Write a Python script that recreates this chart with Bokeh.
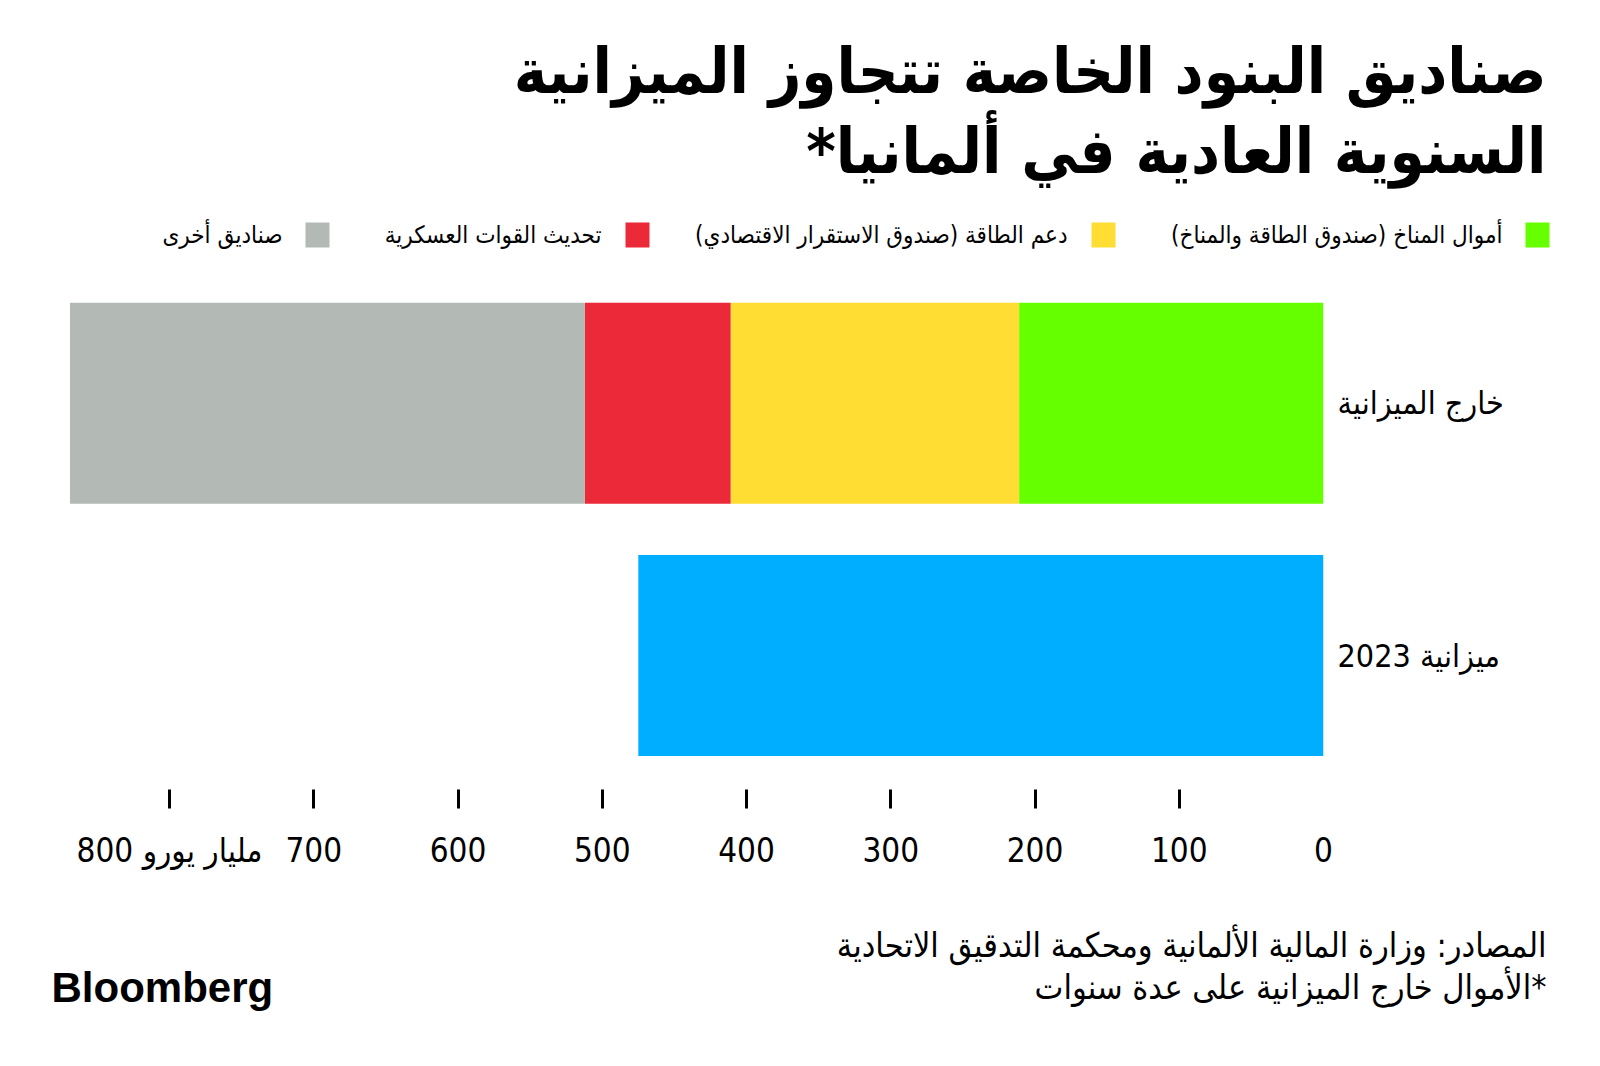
from bokeh.plotting import figure
from bokeh.models import (ColumnDataSource, Range1d, FixedTicker, Label, BoxAnnotation)
from bokeh.layouts import column
from bokeh.embed import file_html
from bokeh.resources import INLINE

# ---------------- data ----------------
rows = ["خارج الميزانية", "ميزانية 2023"]          # top, bottom
row_pos = [1, 0]
series_names = ["أموال المناخ (صندوق الطاقة والمناخ)",
                "دعم الطاقة (صندوق الاستقرار الاقتصادي)",
                "تحديث القوات العسكرية",
                "صناديق أخرى",
                "ميزانية 2023"]
climate = [211, 0]
energy = [200, 0]
military = [101, 0]
other = [357, 0]
budget = [0, 475]
colors = ["#66FF00", "#FFDD33", "#EC2939", "#B3BAB5", "#00AEFF"]
x_ticks = [0, 100, 200, 300, 400, 500, 600, 700, 800]
x_tick_labels = ["0", "100", "200", "300", "400", "500", "600", "700", "800 مليار يورو"]

title_lines = ["صناديق البنود الخاصة تتجاوز الميزانية",
               "السنوية العادية في ألمانيا*"]
source_lines = ["المصادر: وزارة المالية الألمانية ومحكمة التدقيق الاتحادية",
                "*الأموال خارج الميزانية على عدة سنوات"]

RLM = "\u200f"
AR_FONT = "DejaVu Sans Condensed"
W = 1600
HEAD_H = 270
CHART_BOTTOM = 900
FOOT_H = 1066 - CHART_BOTTOM


def blank(h):
    f = figure(width=W, height=h, output_backend="svg", toolbar_location=None,
               title=None, x_range=Range1d(0, W), y_range=Range1d(h, 0),
               x_axis_location=None, y_axis_location=None,
               min_border_left=0, min_border_right=0, min_border_top=0, min_border_bottom=0,
               frame_align=False)
    f.outline_line_color = None
    f.grid.visible = False
    return f


# ---------------- header ----------------
head = blank(HEAD_H)
for i, line in enumerate(title_lines):
    head.add_layout(Label(x=1546, y=71 + i * 80, text=RLM + line + RLM,
                          text_align="right", text_baseline="middle",
                          text_font=AR_FONT, text_font_style="bold",
                          text_font_size="63px", text_color="black"))
leg_sq_right = [1549, 1115, 649, 329]
leg_txt_right = [1502, 1067, 601, 282]
for i in range(4):
    head.add_layout(BoxAnnotation(left=leg_sq_right[i] - 24, right=leg_sq_right[i],
                                  top=222, bottom=247,
                                  fill_color=colors[i], fill_alpha=1, line_color=None))
    head.add_layout(Label(x=leg_txt_right[i], y=234, text=RLM + series_names[i] + RLM,
                          text_align="right", text_baseline="middle",
                          text_font=AR_FONT, text_font_size="24px", text_color="black"))

# ---------------- chart ----------------
X0 = 1323            # canvas px of value 0
PPX = 1154 / 800     # px per unit
Y0 = 655.0           # canvas px of bottom row centre
PPY = 252.3          # px per row
FRAME_L, FRAME_B = 50, 789


def dx(px):
    return (X0 - px) / PPX


def dy(py):
    return (Y0 - py) / PPY


p = figure(width=W, height=CHART_BOTTOM - HEAD_H, output_backend="svg", toolbar_location=None,
           title=None,
           x_range=Range1d(dx(FRAME_L), 0), y_range=Range1d(dy(FRAME_B), dy(HEAD_H)),
           x_axis_location="below", y_axis_location="right",
           min_border_left=FRAME_L, min_border_right=W - X0,
           min_border_top=0, min_border_bottom=CHART_BOTTOM - FRAME_B,
           frame_align=False)
p.outline_line_color = None
p.grid.visible = False

src = ColumnDataSource(dict(y=row_pos, climate=climate, energy=energy,
                            military=military, other=other, budget=budget))
p.hbar_stack(["climate", "energy", "military", "other", "budget"], y="y",
             height=201 / PPY, color=colors, line_color=None, source=src)

xa = p.xaxis[0]
xa.ticker = FixedTicker(ticks=x_ticks, minor_ticks=x_ticks[1:])
xa.major_label_overrides = {t: l for t, l in zip(x_ticks, x_tick_labels)}
xa.axis_line_color = None
xa.major_tick_out = 0
xa.major_tick_in = 0
xa.minor_tick_out = 19
xa.minor_tick_in = 0
xa.minor_tick_line_color = "black"
xa.minor_tick_line_width = 3
xa.major_label_standoff = 22
xa.major_label_text_font = AR_FONT
xa.major_label_text_font_size = "33px"
xa.major_label_text_color = "black"

ya = p.yaxis[0]
ya.ticker = FixedTicker(ticks=row_pos)
ya.major_label_overrides = {r: n for r, n in zip(row_pos, rows)}
ya.axis_line_color = None
ya.major_tick_line_color = None
ya.minor_tick_line_color = None
ya.major_label_standoff = 8
ya.major_label_text_font = AR_FONT
ya.major_label_text_font_size = "32px"
ya.major_label_text_color = "black"

# ---------------- footer ----------------
foot = blank(FOOT_H)
for i, line in enumerate(source_lines):
    foot.add_layout(Label(x=1546, y=944 - CHART_BOTTOM + i * 42, text=RLM + line + RLM,
                          text_align="right", text_baseline="middle",
                          text_font=AR_FONT, text_font_size="34px", text_color="black"))
foot.add_layout(Label(x=51, y=987 - CHART_BOTTOM, text="Bloomberg", text_align="left",
                      text_baseline="middle", text_font="Liberation Sans",
                      text_font_style="bold", text_font_size="42px", text_color="black"))

layout = column(head, p, foot, spacing=0)
open("out.html", "w").write(file_html(layout, INLINE))
